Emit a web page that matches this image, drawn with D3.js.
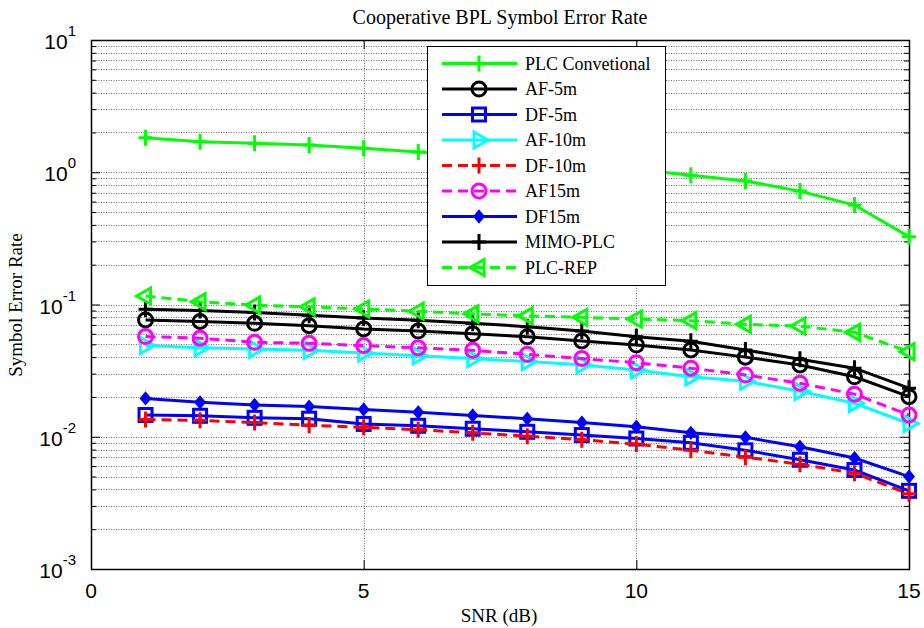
<!DOCTYPE html>
<html>
<head>
<meta charset="utf-8">
<script src="https://cdn.jsdelivr.net/npm/d3@7"></script>
<style>
  body { margin: 0; background: #fff; }
  svg { display: block; }
</style>
</head>
<body>
<script>
// base data
const snr = [1, 2, 3, 4, 5, 6, 7, 8, 9, 10, 11, 12, 13, 14, 15];

const plcConv  = [1.82, 1.70, 1.66, 1.61, 1.52, 1.42, 1.35, 1.26, 1.15, 1.05, 0.95, 0.86, 0.72, 0.565, 0.326];
const af5      = [0.0764, 0.0745, 0.0721, 0.0692, 0.0653, 0.063, 0.060, 0.057, 0.053, 0.0494, 0.0453, 0.040, 0.0349, 0.0284, 0.0201];
const df5      = [0.0146, 0.0144, 0.0139, 0.0137, 0.0125, 0.0121, 0.0115, 0.0109, 0.0103, 0.0097, 0.0090, 0.0079, 0.0067, 0.0056, 0.0039];
const af10     = [0.049, 0.047, 0.046, 0.045, 0.043, 0.041, 0.039, 0.037, 0.035, 0.032, 0.0284, 0.0263, 0.0221, 0.0179, 0.0126];
const df10     = [0.0135, 0.0133, 0.0128, 0.0122, 0.0118, 0.0113, 0.0107, 0.0101, 0.0095, 0.0088, 0.0079, 0.0070, 0.0062, 0.0053, 0.0037];
const af15     = [0.0572, 0.0556, 0.0518, 0.0509, 0.0489, 0.047, 0.045, 0.042, 0.039, 0.0363, 0.033, 0.0293, 0.0254, 0.021, 0.0146];
const df15     = [0.0195, 0.0182, 0.0174, 0.0169, 0.0161, 0.0153, 0.0145, 0.0137, 0.0128, 0.0119, 0.0107, 0.0099, 0.0084, 0.0069, 0.0050];
const mimo     = [0.092, 0.090, 0.087, 0.083, 0.079, 0.076, 0.072, 0.068, 0.063, 0.057, 0.0528, 0.0453, 0.0386, 0.033, 0.0233];
const plcRep   = [0.116, 0.105, 0.099, 0.096, 0.0925, 0.089, 0.085, 0.082, 0.080, 0.0777, 0.0755, 0.0708, 0.0687, 0.0616, 0.044];

const seriesNames = ['PLC Convetional', 'AF-5m', 'DF-5m', 'AF-10m', 'DF-10m', 'AF15m', 'DF15m', 'MIMO-PLC', 'PLC-REP'];
const seriesValues = [plcConv, af5, df5, af10, df10, af15, df15, mimo, plcRep];

const xTicks = [0, 5, 10, 15];
const yExponents = [-3, -2, -1, 0, 1];

// styles
const styles = [
  { color: '#00ff00', dash: null,   marker: 'plus' },
  { color: '#000000', dash: null,   marker: 'circle' },
  { color: '#0000ff', dash: null,   marker: 'square' },
  { color: '#00ffff', dash: null,   marker: 'triright' },
  { color: '#ff0000', dash: '10,6', marker: 'plus' },
  { color: '#ff00ff', dash: '10,6', marker: 'circle' },
  { color: '#0000ff', dash: null,   marker: 'dot' },
  { color: '#000000', dash: null,   marker: 'plus' },
  { color: '#00ff00', dash: '10,6', marker: 'trileft' }
];

// constants
const width = 924;
const height = 628;
const margin = { top: 40, bottom: 59, left: 91, right: 15 };
const serif = 'Liberation Serif, Times New Roman, serif';
const sans = 'Liberation Sans, Arial, sans-serif';

const svg = d3.select('body').append('svg')
  .attr('width', width).attr('height', height);

const xScale = d3.scaleLinear()
  .domain([0, 15])
  .range([margin.left, width - margin.right]);

const yScale = d3.scaleLog()
  .domain([1e-3, 10])
  .range([height - margin.bottom, margin.top]);

const x0 = margin.left, x1 = width - margin.right;
const y0 = height - margin.bottom, y1 = margin.top;

// minor / major y values
const yMajor = yExponents.map(e => Math.pow(10, e));
const yMinor = [];
yExponents.slice(0, -1).forEach(e => {
  for (let k = 2; k <= 9; k++) yMinor.push(k * Math.pow(10, e));
});

// grid
const grid = svg.append('g').attr('class', 'grid')
  .attr('stroke', '#707070').attr('stroke-width', 1)
  .attr('stroke-dasharray', '1,1.5');

grid.selectAll('line.gy').data(yMajor.concat(yMinor)).enter().append('line')
  .attr('x1', x0).attr('x2', x1)
  .attr('y1', d => Math.round(yScale(d)) + 0.5).attr('y2', d => Math.round(yScale(d)) + 0.5);

grid.selectAll('line.gx').data([5, 10]).enter().append('line')
  .attr('y1', y0).attr('y2', y1)
  .attr('x1', d => Math.round(xScale(d)) + 0.5).attr('x2', d => Math.round(xScale(d)) + 0.5);

// axes (ticks inside, MATLAB style)
const tickStyle = g => {
  g.select('.domain').remove();
  g.selectAll('line').attr('stroke', '#000').attr('stroke-width', 1);
  g.selectAll('text').remove();
};

svg.append('g').attr('transform', `translate(${x0},0)`)
  .call(d3.axisRight(yScale).tickValues(yMajor).tickSize(9)).call(tickStyle);
svg.append('g').attr('transform', `translate(${x0},0)`)
  .call(d3.axisRight(yScale).tickValues(yMinor).tickSize(5)).call(tickStyle);
svg.append('g').attr('transform', `translate(${x1},0)`)
  .call(d3.axisLeft(yScale).tickValues(yMajor).tickSize(9)).call(tickStyle);
svg.append('g').attr('transform', `translate(${x1},0)`)
  .call(d3.axisLeft(yScale).tickValues(yMinor).tickSize(5)).call(tickStyle);
svg.append('g').attr('transform', `translate(0,${y0})`)
  .call(d3.axisTop(xScale).tickValues(xTicks).tickSize(9)).call(tickStyle);
svg.append('g').attr('transform', `translate(0,${y1})`)
  .call(d3.axisBottom(xScale).tickValues(xTicks).tickSize(9)).call(tickStyle);

// tick labels
svg.append('g').selectAll('text').data(xTicks).enter().append('text')
  .attr('x', d => xScale(d)).attr('y', 598)
  .attr('text-anchor', 'middle')
  .attr('font-family', sans).attr('font-size', 21)
  .text(d => d);

const yl = svg.append('g').selectAll('text').data(yExponents).enter().append('text')
  .attr('x', 76).attr('y', d => yScale(Math.pow(10, d)) + 9)
  .attr('text-anchor', 'end')
  .attr('font-family', sans).attr('font-size', 21);
yl.append('tspan').text('10');
yl.append('tspan').attr('dy', -13).attr('font-size', 15).text(d => d);

// frame
svg.append('rect').attr('x', x0 + 0.5).attr('y', y1 + 0.5)
  .attr('width', x1 - x0).attr('height', y0 - y1)
  .attr('fill', 'none').attr('stroke', '#000').attr('stroke-width', 1.5);

// markers
function drawMarker(g, type, color, cx, cy) {
  if (type === 'plus') {
    g.append('path').attr('d', `M${cx - 7},${cy}H${cx + 7}M${cx},${cy - 8}V${cy + 8}`)
      .attr('stroke', color).attr('stroke-width', 3).attr('fill', 'none');
  } else if (type === 'circle') {
    g.append('circle').attr('cx', cx).attr('cy', cy).attr('r', 7)
      .attr('stroke', color).attr('stroke-width', 3).attr('fill', 'none');
  } else if (type === 'square') {
    g.append('rect').attr('x', cx - 6.5).attr('y', cy - 6.5).attr('width', 13).attr('height', 13)
      .attr('stroke', color).attr('stroke-width', 3).attr('fill', 'none');
  } else if (type === 'triright') {
    g.append('path').attr('d', `M${cx + 9},${cy}L${cx - 5},${cy - 8}L${cx - 5},${cy + 8}Z`)
      .attr('stroke', color).attr('stroke-width', 3).attr('fill', 'none');
  } else if (type === 'trileft') {
    g.append('path').attr('d', `M${cx - 9},${cy}L${cx + 5},${cy - 8}L${cx + 5},${cy + 8}Z`)
      .attr('stroke', color).attr('stroke-width', 3).attr('fill', 'none');
  } else if (type === 'dot') {
    g.append('path').attr('d', `M${cx},${cy - 6}L${cx + 5},${cy}L${cx},${cy + 6}L${cx - 5},${cy}Z`)
      .attr('fill', color).attr('stroke', color).attr('stroke-width', 1.5);
  }
}

// lines
const line = d3.line()
  .x((d, i) => xScale(snr[i]))
  .y(d => yScale(d));

const plot = svg.append('g');
seriesValues.forEach((vals, si) => {
  const st = styles[si];
  const g = plot.append('g');
  g.append('path').datum(vals).attr('d', line)
    .attr('fill', 'none').attr('stroke', st.color).attr('stroke-width', 3)
    .attr('stroke-dasharray', st.dash);
  vals.forEach((v, i) => drawMarker(g, st.marker, st.color, xScale(snr[i]), yScale(v)));
});

// legend
const lg = svg.append('g');
lg.append('rect').attr('x', 427.5).attr('y', 46.5).attr('width', 238).attr('height', 239)
  .attr('fill', '#fff').attr('stroke', '#000').attr('stroke-width', 1);
seriesNames.forEach((name, i) => {
  const st = styles[i];
  const cy = 63.5 + i * 25.5;
  lg.append('line').attr('x1', 442).attr('x2', 517).attr('y1', cy).attr('y2', cy)
    .attr('stroke', st.color).attr('stroke-width', 3).attr('stroke-dasharray', st.dash);
  drawMarker(lg, st.marker, st.color, 479, cy);
  lg.append('text').attr('x', 525).attr('y', cy + 6)
    .attr('font-family', serif).attr('font-size', 18)
    .text(name);
});

// titles
svg.append('text').attr('x', 500).attr('y', 24).attr('text-anchor', 'middle')
  .attr('font-family', serif).attr('font-size', 20)
  .text('Cooperative BPL Symbol Error Rate');

svg.append('text').attr('x', 499).attr('y', 622).attr('text-anchor', 'middle')
  .attr('font-family', serif).attr('font-size', 19)
  .text('SNR (dB)');

svg.append('text').attr('transform', 'translate(22,305) rotate(-90)').attr('text-anchor', 'middle')
  .attr('font-family', serif).attr('font-size', 19)
  .text('Symbol Error Rate');
</script>
</body>
</html>
